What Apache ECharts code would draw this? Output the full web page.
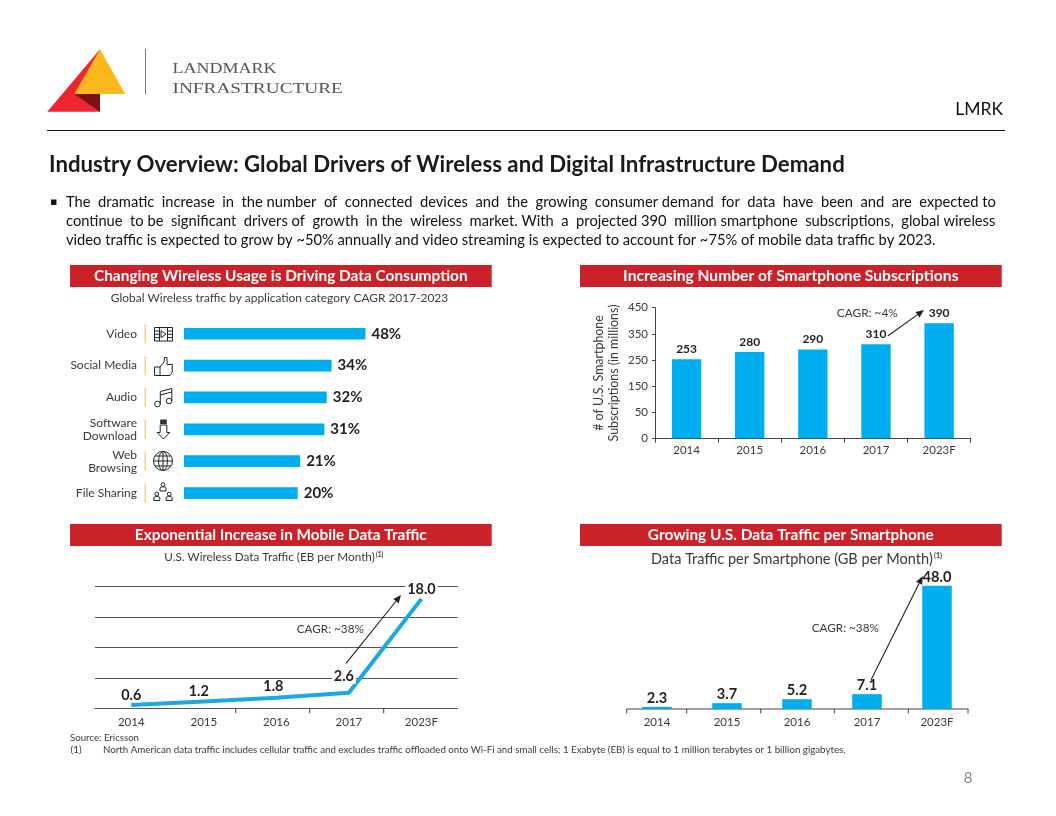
<!DOCTYPE html>
<html><head><meta charset="utf-8">
<style>html,body{margin:0;padding:0;background:#fff}#c{width:1056px;height:816px}</style>
<script src="https://cdn.jsdelivr.net/npm/echarts@6/dist/echarts.min.js"></script>
</head><body><div id="c"></div>
<script>
// ---- data ----
const appCategories = ['Video','Social Media','Audio','Software\nDownload','Web\nBrowsing','File Sharing'];
const appCagr = [48,34,32,31,21,20];
const years = ['2014','2015','2016','2017','2023F'];
const subscriptions = [253,280,290,310,390];
const subscriptionTicks = [0,50,150,250,350,450];
const trafficEB = [0.6,1.2,1.8,2.6,18.0];
const perPhoneGB = [2.3,3.7,5.2,7.1,48.0];

// ---- helpers ----
const SANS='Lato', CAL='Lato', INK='#231f20', TXT='#3a3a3c', BLUE='#00adef', RED='#cb2229';
const mctx=document.createElement('canvas').getContext('2d');
function measure(t,font){mctx.font=font;return mctx.measureText(t).width;}
function fitSize(t,family,weight,w){return 10*w/measure(t,`${weight} 10px ${family}`);}
const g=[];
function txt(text,x,y,o={}){
  const family=o.family||SANS, weight=o.weight||'normal';
  const size=o.width?fitSize(text,family,weight,o.width):(o.size||11);
  const el={type:'text',x,y,z:20,style:{text,font:`${weight} ${size.toFixed(2)}px ${family}`,fill:o.color||TXT,textAlign:o.align||'left',textVerticalAlign:'middle'}};
  if(o.scaleX){el.scaleX=o.scaleX;}
  g.push(el);return size;
}
function rect(x,y,w,h,fill){g.push({type:'rect',z:2,shape:{x,y,width:w,height:h},style:{fill}});}
function poly(points,fill,stroke,lw,z){g.push({type:stroke&&!fill?'polyline':'polygon',z:z||20,shape:{points},style:{fill:fill||'none',stroke:stroke||'none',lineWidth:lw||0}});}
function arrow(x1,y1,x2,y2){
  const a=Math.atan2(y2-y1,x2-x1),L=8,W=3.4,bx=x2-L*Math.cos(a),by=y2-L*Math.sin(a);
  poly([[x1,y1],[bx,by]],null,'#231f20',1.1);
  poly([[x2,y2],[bx-W*Math.sin(a),by+W*Math.cos(a)],[bx+W*Math.sin(a),by-W*Math.cos(a)]],'#231f20');
}
function circ(cx,cy,r,fill,stroke){g.push({type:'circle',z:20,shape:{cx,cy,r},style:{fill:fill||'none',stroke:stroke||'#222',lineWidth:1}});}
function justified(line,x1,x2,y,size){
  const font=`${size}px ${CAL}`,words=line.split(/\s+/),space=measure(' ',font);
  const total=measure(words.join(''),font),gap=(x2-x1-total)/(words.length-1);
  let out=words[0],target=measure(words[0],font),cur=target;
  for(let i=1;i<words.length;i++){
    target+=gap;
    let n=Math.max(1,Math.round((target-cur)/space));
    out+=' '.repeat(n);cur+=n*space;
    const w=measure(words[i],font);target+=w;cur+=w;out+=words[i];
  }
  txt(out,x1,y,{family:CAL,size,color:'#111'});
}
// a bar whose foot sits on the low end of a truncated value axis
function footBar(base,horizontal,thick,font,fmt,distance){
  return (params,api)=>{
    const i=params.dataIndex, v=api.value(horizontal?0:1);
    const a=horizontal?api.coord([base,i]):api.coord([i,base]);
    const b=horizontal?api.coord([v,i]):api.coord([i,v]);
    const shape=horizontal
      ?{x:a[0],y:a[1]-thick/2,width:b[0]-a[0],height:thick}
      :{x:a[0]-thick/2,y:b[1],width:thick,height:a[1]-b[1]};
    return {type:'rect',shape,style:{fill:BLUE},
      textContent:{style:{text:fmt(v),font,fill:INK}},
      textConfig:{position:horizontal?'right':'top',distance}};
  };
}

// ---- header ----
poly([[100,49.3],[47.3,111.7],[100,111.7]],'#ed2530');
poly([[100,49.3],[74.3,94],[125.3,94]],'#fdb71c');
poly([[74.3,94],[100,94],[100,111.7]],'#7a1214');
rect(145,49,1,45.5,'#777');
txt('LANDMARK',172.5,69.5,{family:'"Liberation Serif"',size:14.5,color:'#555',scaleX:1.24});
txt('INFRASTRUCTURE',172.5,89,{family:'"Liberation Serif"',size:14.5,color:'#555',scaleX:1.33});
txt('LMRK',1003,109,{family:CAL,size:17.5,color:'#111',align:'right'});
rect(47,130,958,1,'#111');
txt('Industry Overview: Global Drivers of Wireless and Digital Infrastructure Demand',49,165,{family:CAL,weight:'bold',width:796,color:'#1a1a1a'});
txt('\u25aa',50,202,{size:11,color:'#111',family:'"DejaVu Sans"'});
const lastLine='video traffic is expected to grow by ~50% annually and video streaming is expected to account for ~75% of mobile data traffic by 2023.';
const bodySize=+fitSize(lastLine,CAL,'normal',870).toFixed(2);
justified('The dramatic increase in the number of connected devices and the growing consumer demand for data have been and are expected to',66,996,202,bodySize);
justified('continue to be significant drivers of growth in the wireless market. With a projected 390 million smartphone subscriptions, global wireless',66,996,221,bodySize);
txt(lastLine,66,240,{family:CAL,size:bodySize,color:'#111'});

// ---- panel headers ----
[[70,265,'Changing Wireless Usage is Driving Data Consumption',374],
 [580,265,'Increasing Number of Smartphone Subscriptions',335.6],
 [70,524,'Exponential Increase in Mobile Data Traffic',292],
 [580,524,'Growing U.S. Data Traffic per Smartphone',286]].forEach(([x,y,t,w])=>{
  rect(x,y,421.7,22,RED);
  txt(t,x+210.8,y+11,{weight:'bold',color:'#fff',width:w,align:'center'});
});
txt('Global Wireless traffic by application category CAGR 2017-2023',279.5,297.7,{width:337.6,align:'center'});
txt('U.S. Wireless Data Traffic (EB per Month)',164.3,557.7,{width:210.7});
txt('(1)',376,554.5,{size:6.5,weight:'bold'});
txt('Data Traffic per Smartphone (GB per Month)',651,559,{width:282});
txt('(1)',934,556,{size:7,weight:'bold'});

// ---- annotations ----
txt('CAGR: ~4%',867.3,312.7,{width:61,align:'center'});
arrow(887.7,336,924,310);
txt('CAGR: ~38%',330.3,629.3,{width:67,align:'center'});
arrow(346,663.3,401,595);
txt('CAGR: ~38%',845.3,628.3,{width:67,align:'center'});
arrow(871,680,922.7,576);

// ---- irregular axis furniture of the two lower panels ----
[235.7,309.7,383.7].forEach(x=>rect(x-0.5,708.7,1,4.5,'#444'));
rect(626.7,708.6,341.6,1,'#444');
[626.7,686.7,760.7,834.3,908.3,968].forEach(x=>rect(x-0.5,709,1,4.5,'#444'));

// ---- footnotes ----
txt('Source: Ericsson',70,737.7,{width:69});
txt('(1)',70.5,750,{size:10});
txt('North American data traffic includes cellular traffic and excludes traffic offloaded onto Wi-Fi and small cells; 1 Exabyte (EB) is equal to 1 million terabytes or 1 billion gigabytes.',103,750,{width:743});
txt('8',968,778,{family:CAL,size:15,color:'#8a8a8a',align:'center'});

// ---- separators + icons (left panel) ----
const rowY=[333.7,365.7,397.3,429.3,461,493];
rowY.forEach(y=>rect(144.6,y-9.5,1.2,19,'#f4c37a'));
const ST='#222';
g.push({type:'rect',z:20,shape:{x:154.5,y:327.5,width:18,height:13.5},style:{fill:'none',stroke:ST,lineWidth:1}});
poly([[159.5,327.5],[159.5,341]],null,ST,1);poly([[167.5,327.5],[167.5,341]],null,ST,1);
[331,334.3,337.6].forEach(y=>{poly([[154.5,y],[159.5,y]],null,ST,1);poly([[167.5,y],[172.5,y]],null,ST,1);});
poly([[161,330.8],[166,334.2],[161,337.6],[161,330.8]],null,ST,1);
poly([[154.5,367],[160,367],[160,375.5],[154.5,375.5],[154.5,367]],null,ST,1);
poly([[160,367],[164,362],[164.5,357.5],[167,357.5],[167,364.5],[172.3,364.5],[172.3,372],[170,375.5],[160,375.5]],null,ST,1);
circ(157.5,404,2.8);circ(169,401,2.8);
poly([[160.3,404],[160.3,391.5],[171.8,388.5],[171.8,401]],null,ST,1);
poly([[160.3,395],[171.8,392]],null,ST,1);
rect(160.2,419.5,6.6,4.5,'#333');
poly([[160.2,425],[166.8,425],[166.8,432.5],[169.8,432.5],[163.5,439],[157.2,432.5],[160.2,432.5],[160.2,425]],null,ST,1);
circ(163,461,9.5);
g.push({type:'ellipse',z:20,shape:{cx:163,cy:461,rx:4.4,ry:9.5},style:{fill:'none',stroke:ST,lineWidth:1}});
poly([[153.5,461],[172.5,461]],null,ST,1);poly([[155,456],[171,456]],null,ST,1);poly([[155,466],[171,466]],null,ST,1);poly([[163,451.5],[163,470.5]],null,ST,1);
[[163,488],[156.8,497.5],[169.2,497.5]].forEach(([x,y])=>{
  circ(x,y-3.4,1.9);
  poly([[x-3,y+3],[x-3,y],[x-1,y-1.2],[x+1,y-1.2],[x+3,y],[x+3,y+3],[x-3,y+3]],null,ST,1);
});

// ---- chart ----
const axisCol='#444';
const lbl=(size)=>({color:TXT,fontFamily:SANS,fontSize:size});
const val=(size)=>({color:INK,fontFamily:SANS,fontSize:size,fontWeight:'bold'});
const tick=(extra)=>({show:true,length:4.5,lineStyle:{color:axisCol},...extra});
const ebLabelShift=[[0,0],[-5,0],[-3,0],[-5,0],[0,0]];
const ebLabelGap=[3,3,4,9,3];
const option={
  backgroundColor:'#fff',animation:false,
  grid:[
    {left:184,top:317.8,width:186.3,height:191.2},
    {left:655,top:307.7,width:315.7,height:130.6},
    {left:95,top:586.7,width:362.7,height:122},
    {left:622,top:585.8,width:350,height:123.2}
  ],
  xAxis:[
    {gridIndex:0,type:'value',min:-27,max:50,show:false},
    {gridIndex:1,type:'category',data:years,axisLine:{onZero:false,lineStyle:{color:axisCol}},axisTick:tick(),axisLabel:{...lbl(11.5),margin:6}},
    {gridIndex:2,type:'category',data:years,axisLine:{onZero:false,lineStyle:{color:'#555',width:1.2}},axisTick:{show:false},axisLabel:{...lbl(11.5),margin:8}},
    {gridIndex:3,type:'category',data:years,axisLine:{show:false,onZero:false},axisTick:{show:false},axisLabel:{...lbl(11.5),margin:7}}
  ],
  yAxis:[
    {gridIndex:0,type:'category',inverse:true,data:appCategories,axisLine:{show:false},axisTick:{show:false},axisLabel:{...lbl(12),margin:47,align:'right',lineHeight:13}},
    {gridIndex:1,type:'value',min:-50,max:450,interval:100,splitLine:{show:false},
      axisLine:{show:true,onZero:false,lineStyle:{color:axisCol}},axisTick:{show:true,length:3,lineStyle:{color:axisCol}},
      axisLabel:{...lbl(11.5),margin:7,formatter:(v,i)=>String(subscriptionTicks[i])},
      name:'# of U.S. Smartphone\nSubscriptions (in millions)',nameLocation:'middle',nameGap:34,
      nameTextStyle:{...lbl(+fitSize('Subscriptions (in millions)',SANS,'normal',137).toFixed(2)),lineHeight:15}},
    {gridIndex:2,type:'value',min:0,max:20,interval:5,axisLabel:{show:false},axisLine:{show:false},axisTick:{show:false},splitLine:{lineStyle:{color:'#555',width:1.2}}},
    {gridIndex:3,type:'value',min:1.5,max:48,show:false}
  ],
  series:[
    {type:'custom',xAxisIndex:0,yAxisIndex:0,data:appCagr.map((v,i)=>[v,i]),encode:{x:0,y:1},
      renderItem:footBar(-27,true,11.7,`bold 15px ${SANS}`,v=>v+'%',6)},
    {type:'custom',xAxisIndex:1,yAxisIndex:1,data:subscriptions.map((v,i)=>[i,v]),encode:{x:0,y:1},
      renderItem:footBar(-50,false,29.4,`bold 12px ${SANS}`,v=>String(v),4)},
    {type:'line',xAxisIndex:2,yAxisIndex:2,symbol:'circle',symbolSize:0,lineStyle:{color:'#1ca8e0',width:4},z:5,
      data:trafficEB.map((v,i)=>({value:v,label:{distance:ebLabelGap[i],offset:ebLabelShift[i]}})),
      label:{show:true,position:'top',formatter:p=>p.value.toFixed(1),backgroundColor:'#fff',padding:[0,2],...val(14.4)}},
    {type:'bar',xAxisIndex:3,yAxisIndex:3,data:perPhoneGB,barWidth:29.5,itemStyle:{color:BLUE},
      label:{show:true,position:'top',distance:1,formatter:p=>p.value.toFixed(1),...val(14.6)}}
  ],
  graphic:{elements:g}
};
const chart=echarts.init(document.getElementById('c'));
chart.setOption(option);
</script></body></html>
